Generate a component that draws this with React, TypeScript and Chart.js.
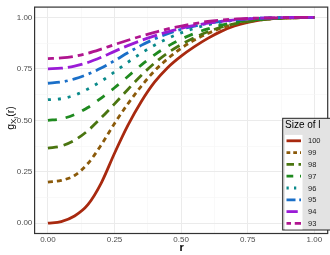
import React, { useEffect, useRef } from "react";
import { Chart, registerables } from "chart.js";

Chart.register(...registerables);

const rValues = [0, 0.05, 0.1, 0.15, 0.2, 0.25, 0.3, 0.35, 0.4, 0.45, 0.5, 0.55, 0.6, 0.65, 0.7, 0.75, 0.8, 0.85, 0.9, 0.95, 1];

const sizeLabels = ["100", "99", "98", "97", "96", "95", "94", "93"];

const g100 = [0, 0.008, 0.035, 0.09, 0.195, 0.34, 0.475, 0.59, 0.685, 0.757, 0.812, 0.858, 0.898, 0.932, 0.958, 0.976, 0.988, 0.995, 0.998, 0.9995, 1];
const g99 = [0.2, 0.208, 0.232, 0.29, 0.38, 0.485, 0.58, 0.665, 0.74, 0.8, 0.85, 0.89, 0.922, 0.948, 0.967, 0.98, 0.989, 0.994, 0.997, 0.999, 1];
const g98 = [0.365, 0.375, 0.403, 0.45, 0.512, 0.58, 0.65, 0.718, 0.778, 0.828, 0.868, 0.902, 0.93, 0.952, 0.968, 0.98, 0.988, 0.994, 0.997, 0.999, 1];
const g97 = [0.5, 0.507, 0.528, 0.562, 0.608, 0.658, 0.713, 0.768, 0.818, 0.86, 0.894, 0.922, 0.944, 0.962, 0.975, 0.985, 0.991, 0.995, 0.998, 0.999, 1];
const g96 = [0.6, 0.605, 0.622, 0.652, 0.69, 0.735, 0.782, 0.826, 0.865, 0.898, 0.925, 0.947, 0.964, 0.977, 0.986, 0.992, 0.996, 0.998, 0.999, 1, 1];
const g95 = [0.68, 0.686, 0.701, 0.724, 0.754, 0.79, 0.828, 0.864, 0.895, 0.921, 0.942, 0.958, 0.971, 0.981, 0.988, 0.993, 0.996, 0.998, 0.999, 1, 1];
const g94 = [0.75, 0.753, 0.763, 0.781, 0.806, 0.835, 0.863, 0.888, 0.91, 0.93, 0.947, 0.961, 0.972, 0.981, 0.988, 0.993, 0.996, 0.998, 0.999, 1, 1];
const g93 = [0.8, 0.803, 0.811, 0.826, 0.846, 0.868, 0.889, 0.909, 0.927, 0.944, 0.958, 0.97, 0.98, 0.987, 0.992, 0.995, 0.997, 0.998, 0.999, 1, 1];

const seriesValues = [g100, g99, g98, g97, g96, g95, g94, g93];

const lineColors = ["#A8290F", "#8B5A0A", "#4A7510", "#1F8A1F", "#0A8A8A", "#1A6FC8", "#9A1BD6", "#B0158F"];
const dashPatterns = [[], [5, 4], [10, 6], [9, 9], [3, 7], [12, 5, 3, 5], [15, 5], [6, 5, 14, 5]];

const tickValues = [0, 0.125, 0.25, 0.375, 0.5, 0.625, 0.75, 0.875, 1];
const isMajor = (v: number) => Math.abs(v * 4 - Math.round(v * 4)) < 1e-6;

const FONT = "'Liberation Sans', Arial, sans-serif";

const decorPlugin = {
  id: "decor",
  afterDraw(chart: any) {
    const { ctx, chartArea } = chart;
    const { left, right, top, bottom } = chartArea;
    ctx.save();
    // panel border
    ctx.strokeStyle = "#333333";
    ctx.lineWidth = 1.2;
    ctx.strokeRect(left, top, right - left, bottom - top);

    // x title
    ctx.fillStyle = "#000000";
    ctx.font = `bold 11px ${FONT}`;
    ctx.textAlign = "center";
    ctx.textBaseline = "alphabetic";
    ctx.fillText("r", (left + right) / 2 + 0.5, 251);

    // y title g_{X_l}(r)
    ctx.save();
    ctx.translate(13.5, 118);
    ctx.rotate(-Math.PI / 2);
    const mainF = `10.5px ${FONT}`;
    const subF = `8px ${FONT}`;
    const subsubF = `6px ${FONT}`;
    ctx.font = mainF;
    const wg = ctx.measureText("g").width;
    const wr = ctx.measureText("(r)").width;
    ctx.font = subF;
    const wx = ctx.measureText("X").width;
    ctx.font = subsubF;
    const wl = ctx.measureText("l").width;
    const total = wg + wx + wl + wr + 0.5;
    let x = -total / 2;
    ctx.textAlign = "left";
    ctx.fillStyle = "#000000";
    ctx.font = mainF;
    ctx.fillText("g", x, 0);
    x += wg;
    ctx.font = subF;
    ctx.fillText("X", x, 2.5);
    x += wx;
    ctx.font = subsubF;
    ctx.fillText("l", x, 4.5);
    x += wl + 0.5;
    ctx.font = mainF;
    ctx.fillText("(r)", x, 0);
    ctx.restore();

    // legend
    const lx = 282.7;
    const ly = 118.3;
    const lw = 60;
    const lh = 111.7;
    ctx.fillStyle = "#E3E3E3";
    ctx.fillRect(lx, ly, lw, lh);
    ctx.strokeStyle = "#222222";
    ctx.lineWidth = 1;
    ctx.strokeRect(lx, ly, lw, lh);
    ctx.fillStyle = "#000000";
    ctx.font = `10px ${FONT}`;
    ctx.textAlign = "left";
    ctx.textBaseline = "middle";
    ctx.fillText("Size of l", 285, 125.5);

    const rowH = 11.8;
    const firstY = 140.8;
    ctx.fillStyle = "#FFFFFF";
    ctx.fillRect(285, firstY - rowH / 2, 17.5, rowH * sizeLabels.length);
    sizeLabels.forEach((lab, i) => {
      const cy = firstY + i * rowH;
      ctx.save();
      ctx.strokeStyle = lineColors[i];
      ctx.lineWidth = 2.8;
      ctx.setLineDash(dashPatterns[i].length ? dashPatterns[i].map((d) => d * 0.75) : []);
      ctx.beginPath();
      ctx.moveTo(286.5, cy);
      ctx.lineTo(301, cy);
      ctx.stroke();
      ctx.restore();
      ctx.fillStyle = "#1A1A1A";
      ctx.font = `7.5px ${FONT}`;
      ctx.textAlign = "left";
      ctx.textBaseline = "middle";
      ctx.fillText(lab, 308, cy + 0.5);
    });
    ctx.restore();
  },
};

export default function App() {
  const canvasRef = useRef<HTMLCanvasElement | null>(null);

  useEffect(() => {
    const canvas = canvasRef.current;
    if (!canvas) return;
    const datasets = sizeLabels.map((lab, i) => ({
      label: lab,
      data: rValues.map((r, j) => ({ x: r, y: seriesValues[i][j] })),
      borderColor: lineColors[i],
      backgroundColor: lineColors[i],
      borderWidth: 2.8,
      borderDash: dashPatterns[i],
      pointRadius: 0,
      fill: false,
      cubicInterpolationMode: "monotone" as const,
      order: sizeLabels.length - i,
    }));

    const tickFont = { family: FONT, size: 8 };
    const chart = new Chart(canvas, {
      type: "line",
      data: { datasets },
      options: {
        animation: false,
        responsive: false,
        maintainAspectRatio: false,
        layout: { padding: { left: 0, right: 2.3, top: 2.3, bottom: 0 } },
        plugins: { legend: { display: false }, tooltip: { enabled: false } },
        scales: {
          x: {
            type: "linear",
            min: -0.05,
            max: 1.05,
            afterBuildTicks: (s: any) => {
              s.ticks = tickValues.map((v) => ({ value: v }));
            },
            afterFit: (s: any) => {
              s.height = 21.5;
            },
            ticks: {
              autoSkip: false,
              maxRotation: 0,
              padding: 1.5,
              color: "#4D4D4D",
              font: tickFont,
              callback: (v: any) => (isMajor(Number(v)) ? Number(v).toFixed(2) : ""),
            },
            grid: {
              drawTicks: false,
              color: (c: any) => (isMajor(c.tick.value) ? "#EBEBEB" : "#F5F5F5"),
              lineWidth: (c: any) => (isMajor(c.tick.value) ? 1 : 0.6),
            },
            border: { display: false },
          },
          y: {
            type: "linear",
            min: -0.05,
            max: 1.05,
            afterBuildTicks: (s: any) => {
              s.ticks = tickValues.map((v) => ({ value: v }));
            },
            afterFit: (s: any) => {
              s.width = 34.6;
            },
            ticks: {
              autoSkip: false,
              padding: 2.3,
              color: "#4D4D4D",
              font: tickFont,
              callback: (v: any) => (isMajor(Number(v)) ? Number(v).toFixed(2) : ""),
            },
            grid: {
              drawTicks: false,
              color: (c: any) => (isMajor(c.tick.value) ? "#EBEBEB" : "#F5F5F5"),
              lineWidth: (c: any) => (isMajor(c.tick.value) ? 1 : 0.6),
            },
            border: { display: false },
          },
        },
      },
      plugins: [decorPlugin],
    });
    return () => chart.destroy();
  }, []);

  return (
    <div style={{ position: "fixed", left: 0, top: 0, width: 330, height: 255, background: "#FFFFFF" }}>
      <canvas ref={canvasRef} width={330} height={255} style={{ display: "block" }} />
    </div>
  );
}
